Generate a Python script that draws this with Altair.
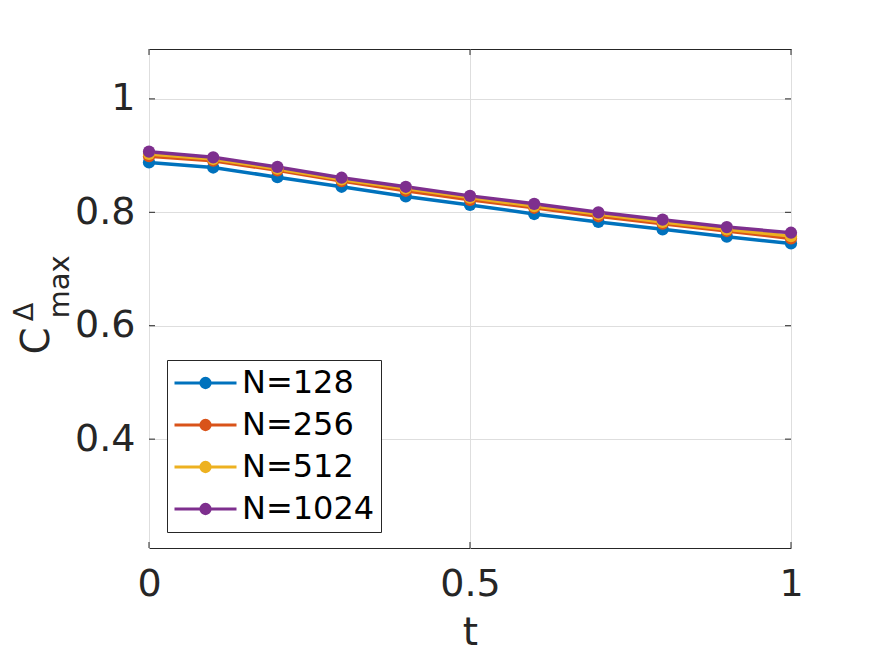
import altair as alt
import pandas as pd

# ---- data ----
t_vals = [0.0, 0.1, 0.2, 0.3, 0.4, 0.5, 0.6, 0.7, 0.8, 0.9, 1.0]
series_names = ["N=128", "N=256", "N=512", "N=1024"]
c128 = [0.888, 0.879, 0.862, 0.845, 0.828, 0.813, 0.797, 0.783, 0.770, 0.757, 0.745]
c256 = [0.899, 0.891, 0.874, 0.855, 0.838, 0.822, 0.808, 0.793, 0.780, 0.767, 0.754]
c512 = [0.903, 0.894, 0.877, 0.858, 0.842, 0.826, 0.811, 0.797, 0.783, 0.770, 0.758]
c1024 = [0.907, 0.897, 0.880, 0.861, 0.845, 0.829, 0.815, 0.800, 0.787, 0.774, 0.764]
colors = ["#0072BD", "#D95319", "#EDB120", "#7E2F8E"]
x_ticks = [0, 0.5, 1]
y_ticks = [0.4, 0.6, 0.8, 1.0]
x_domain = [0, 1]
y_domain = [0.208, 1.088]

rows = []
for name, vals in zip(series_names, [c128, c256, c512, c1024]):
    for t, v in zip(t_vals, vals):
        rows.append({"t": t, "C": v, "N": name})
df = pd.DataFrame(rows)

W, H = 642, 499
FONT = "DejaVu Sans"
INK = "#262626"
GRID = "#dedede"

x_scale = alt.Scale(domain=x_domain, nice=False, zero=False)
y_scale = alt.Scale(domain=y_domain, nice=False, zero=False)

SYMBOL = ("M-1,0H1"
          "M-0.15,0A0.15,0.15 0 1,0 0.15,0A0.15,0.15 0 1,0 -0.15,0"
          "M-0.07,0A0.07,0.07 0 1,0 0.07,0A0.07,0.07 0 1,0 -0.07,0")

legend = alt.Legend(
    title=None, orient="none", legendX=18, legendY=311,
    symbolType=SYMBOL, symbolSize=3844, symbolStrokeWidth=3, symbolOpacity=1,
    labelFont=FONT, labelFontSize=32, labelColor="black", labelLimit=400,
    labelOffset=4, strokeColor=INK, fillColor="white", padding=6,
    cornerRadius=0, rowPadding=8, clipHeight=34,
)
color = alt.Color("N:N", scale=alt.Scale(domain=series_names, range=colors),
                  sort=series_names, legend=legend)

x_axis = alt.Axis(values=x_ticks, format="~g", grid=True, gridColor=GRID,
                  ticks=False, tickSize=0, domain=False, labelFlush=False,
                  labelFont=FONT, labelFontSize=38, labelColor=INK, labelPadding=17,
                  title="t", titleFont=FONT, titleFontSize=39, titleFontWeight="normal",
                  titleColor=INK, titlePadding=10)
y_axis = alt.Axis(values=y_ticks, format=".1~f", grid=True, gridColor=GRID,
                  ticks=False, tickSize=0, domain=False,
                  labelFont=FONT, labelFontSize=38, labelColor=INK, labelPadding=14,
                  title=None)

X = alt.X("t:Q", scale=x_scale, axis=x_axis)
Y = alt.Y("C:Q", scale=y_scale, axis=y_axis)

base = alt.Chart(df)
lines = base.mark_line(strokeWidth=3.5).encode(x=X, y=Y, color=color)
points = base.mark_circle(size=150, opacity=1).encode(x=X, y=Y, color=color)

# inward ticks on all four sides (MATLAB box style)
yt = pd.DataFrame({"C": y_ticks})
xt = pd.DataFrame({"t": x_ticks})
TL = 6
left_t = alt.Chart(yt).mark_rule(color=INK, strokeWidth=1).encode(
    y=Y, x=alt.value(0), x2=alt.value(TL))
right_t = alt.Chart(yt).mark_rule(color=INK, strokeWidth=1).encode(
    y=Y, x=alt.value(W - TL), x2=alt.value(W))
bot_t = alt.Chart(xt).mark_rule(color=INK, strokeWidth=1).encode(
    x=X, y=alt.value(H - TL), y2=alt.value(H))
top_t = alt.Chart(xt).mark_rule(color=INK, strokeWidth=1).encode(
    x=X, y=alt.value(0), y2=alt.value(TL))


def ylabel_part(txt, size, x, y):
    return alt.Chart(pd.DataFrame({"s": [txt]})).mark_text(
        font=FONT, fontSize=size, angle=270, align="center", baseline="middle",
        color=INK,
    ).encode(text="s:N", x=alt.value(x), y=alt.value(y))


lab_C = ylabel_part("C", 39, -112, 292)
lab_D = ylabel_part("\u0394", 27, -124, 263)
lab_max = ylabel_part("max", 29, -89, 238)

chart = alt.layer(
    lines, points, left_t, right_t, bot_t, top_t, lab_C, lab_D, lab_max
).properties(
    width=W, height=H, autosize="none",
    padding={"left": 141, "top": 41, "right": 40, "bottom": 106},
    background="white",
).configure_view(stroke=INK, strokeWidth=1)

chart.save("out.html", embed_options={"renderer": "svg", "actions": False})
